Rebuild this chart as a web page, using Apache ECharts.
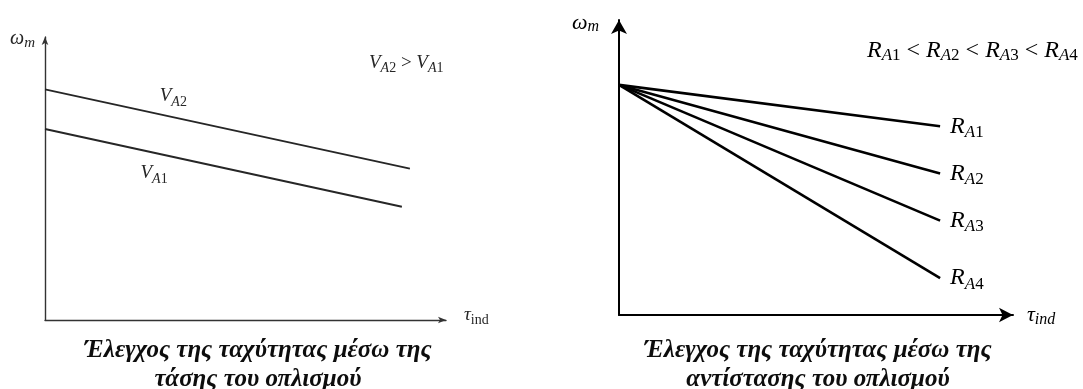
<!DOCTYPE html>
<html>
<head>
<meta charset="utf-8">
<script src="https://cdn.jsdelivr.net/npm/echarts@6/dist/echarts.min.js"></script>
<style>
  html, body { margin: 0; padding: 0; background: #fff; }
  #chart { width: 1083px; height: 389px; }
</style>
</head>
<body>
<div id="chart"></div>
<script>
// Speed–torque characteristics of a separately excited DC motor
// Left: armature voltage control; right: armature resistance control.

// Left panel: two parallel characteristics [torque, speed]
const voltageNames = [['A', '2'], ['A', '1']];
const vA2 = [[0, 8.15], [9.1, 5.35]];
const vA1 = [[0, 6.75], [8.9, 4.0]];
const voltageLabelAt = [[3.2, 7.9], [2.72, 5.2]];

// Right panel: common no-load speed, increasing armature resistance
const resistanceNames = [['A', '1'], ['A', '2'], ['A', '3'], ['A', '4']];
const noLoadSpeed = 7.8;
const torqueEnd = 8.15;
const speedAtEnd = [6.4, 4.8, 3.2, 1.25];

// Axis titles and captions
const speedSym = 'ω';
const speedSub = 'm';
const torqueSym = 'τ';
const torqueSub = 'ind';
const captionLeft = ['Έλεγχος της ταχύτητας μέσω της', 'τάσης του οπλισμού'];
const captionRight = ['Έλεγχος της ταχύτητας μέσω της', 'αντίστασης του οπλισμού'];

const SERIF = '"Liberation Serif", "DejaVu Serif", serif';
const leftInk = '#262626';
const rightInk = '#000';

// i: italic symbol, s: italic subscript, d: upright subscript, n: upright text
function richSet(size, subSize, color, subDrop) {
  const base = { fontFamily: SERIF, fontWeight: 'normal', color: color };
  return {
    i: Object.assign({}, base, { fontStyle: 'italic', fontSize: size }),
    s: Object.assign({}, base, { fontStyle: 'italic', fontSize: subSize, padding: [subDrop, 0, 0, 0] }),
    d: Object.assign({}, base, { fontStyle: 'normal', fontSize: subSize, padding: [subDrop, 0, 0, 0] }),
    n: Object.assign({}, base, { fontStyle: 'normal', fontSize: size })
  };
}

function symSub(sym, parts, subUpright) {
  return '{i|' + sym + '}' + (subUpright ? '{d|' : '{s|') + parts + '}';
}
function symIdx(sym, parts) {
  return '{i|' + sym + '}{s|' + parts[0] + '}{d|' + parts[1] + '}';
}

function axisX(gridIndex, color, width, arrow, name, rich, gap, lift) {
  return {
    type: 'value', gridIndex: gridIndex, min: 0, max: 10,
    axisLine: { show: true, onZero: false, symbol: ['none', 'arrow'], symbolSize: arrow,
                lineStyle: { color: color, width: width } },
    axisTick: { show: false }, axisLabel: { show: false }, splitLine: { show: false },
    name: name, nameLocation: 'end', nameGap: gap,
    nameTextStyle: { rich: rich, verticalAlign: 'middle', padding: [0, 0, lift, 0] }
  };
}

function axisY(gridIndex, color, width, arrow, name, rich, gap, padRight) {
  return {
    type: 'value', gridIndex: gridIndex, min: 0, max: 10,
    axisLine: { show: true, onZero: false, symbol: ['none', 'arrow'], symbolSize: arrow,
                lineStyle: { color: color, width: width } },
    axisTick: { show: false }, axisLabel: { show: false }, splitLine: { show: false },
    name: name, nameLocation: 'end', nameGap: gap,
    nameTextStyle: { rich: rich, align: 'right', verticalAlign: 'middle',
                     padding: [0, padRight, 0, 0] }
  };
}

const series = [];

// Left panel lines
[vA2, vA1].forEach(function (pts, k) {
  series.push({
    type: 'line', xAxisIndex: 0, yAxisIndex: 0, data: pts,
    symbol: 'none', silent: true, animation: false,
    lineStyle: { color: leftInk, width: 1.9 },
    markPoint: {
      symbolSize: 0, animation: false,
      data: [{ coord: voltageLabelAt[k] }],
      label: {
        show: true, position: 'inside',
        formatter: symIdx('V', voltageNames[k]),
        rich: richSet(19, 14, leftInk, 12)
      }
    }
  });
});

// Right panel lines, each labelled at its end
speedAtEnd.forEach(function (w, k) {
  series.push({
    type: 'line', xAxisIndex: 1, yAxisIndex: 1,
    data: [[0, noLoadSpeed], [torqueEnd, w]],
    symbol: 'none', silent: true, animation: false,
    lineStyle: { color: rightInk, width: 2.6 },
    endLabel: {
      show: true, distance: 10,
      formatter: symIdx('R', resistanceNames[k]),
      rich: richSet(24, 17, rightInk, 12)
    }
  });
});

const titleFont = { fontFamily: SERIF, fontStyle: 'italic', fontWeight: 'bold', fontSize: 25, color: '#0d0d0d' };

const option = {
  backgroundColor: '#fff',
  animation: false,
  grid: [
    { left: 45, top: 37, width: 401, height: 283 },
    { left: 619, top: 20, width: 394, height: 295 }
  ],
  xAxis: [
    axisX(0, '#333', 1.4, [5, 8], symSub(torqueSym, torqueSub, true), richSet(19, 14, leftInk, 10), 18, 10),
    axisX(1, '#000', 2, [11, 14], symSub(torqueSym, torqueSub, false), richSet(22, 16, rightInk, 10), 14, 0)
  ],
  yAxis: [
    axisY(0, '#333', 1.4, [5, 8], symSub(speedSym, speedSub, false), richSet(20, 15, leftInk, 8), -2, 10),
    axisY(1, '#000', 2, [12, 14], symSub(speedSym, speedSub, false), richSet(22, 16, rightInk, 8), -3, 20)
  ],
  title: [
    { text: captionLeft[0], left: 253, top: 333, textAlign: 'center', textStyle: titleFont },
    { text: captionLeft[1], left: 253, top: 362, textAlign: 'center', textStyle: titleFont },
    { text: captionRight[0], left: 813, top: 333, textAlign: 'center', textStyle: titleFont },
    { text: captionRight[1], left: 813, top: 362, textAlign: 'center', textStyle: titleFont },
    {
      text: symIdx('V', ['A', '2']) + '{n| > }' + symIdx('V', ['A', '1']), left: 364, top: 46,
      textStyle: { rich: richSet(19, 14, leftInk, 10) }
    },
    {
      text: symIdx('R', ['A', '1']) + '{n| < }' + symIdx('R', ['A', '2']) + '{n| < }' +
            symIdx('R', ['A', '3']) + '{n| < }' + symIdx('R', ['A', '4']),
      left: 862, top: 32,
      textStyle: { rich: richSet(24, 17, rightInk, 10) }
    }
  ],
  series: series
};

const chart = echarts.init(document.getElementById('chart'), null, { renderer: 'canvas' });
chart.setOption(option);
</script>
</body>
</html>
